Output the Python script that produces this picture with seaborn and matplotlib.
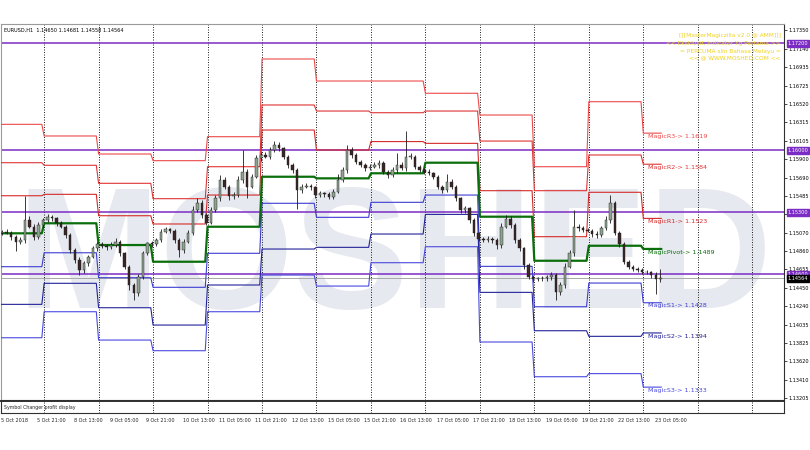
import numpy as np
import pandas as pd
import matplotlib
matplotlib.use('Agg')
import matplotlib.pyplot as plt
import matplotlib.transforms as mtransforms
import seaborn as sns

# ---------------- data ----------------
symbol_header = "EURUSD,H1  1.14650 1.14681 1.14558 1.14564"

# 2-hour candles (close prices), open = previous close
first_open = 1.15070
closes = [
    1.15080, 1.15069, 1.15024, 1.14968, 1.14986, 1.15212, 1.15137, 1.15024, 1.15155, 1.15212,
    1.15249, 1.15230, 1.15174, 1.15137, 1.15043, 1.14874, 1.14761, 1.14649, 1.14724, 1.14799,
    1.14893, 1.14941, 1.14919, 1.14904, 1.14930, 1.14968, 1.14836, 1.14686, 1.14480, 1.14386,
    1.14573, 1.14836, 1.14949, 1.14941, 1.14986, 1.15080, 1.15107, 1.15092, 1.14986, 1.14874,
    1.14968, 1.15069, 1.15324, 1.15407, 1.15268, 1.15182, 1.15324, 1.15456, 1.15662, 1.15587,
    1.15482, 1.15493, 1.15662, 1.15756, 1.15587, 1.15700, 1.15906, 1.15944, 1.15925, 1.16000,
    1.16056, 1.16019, 1.15925, 1.15831, 1.15775, 1.15550, 1.15587, 1.15595, 1.15580, 1.15493,
    1.15512, 1.15504, 1.15474, 1.15531, 1.15662, 1.15775, 1.16000, 1.15944, 1.15869, 1.15831,
    1.15794, 1.15812, 1.15831, 1.15857, 1.15756, 1.15718, 1.15775, 1.15831, 1.15794, 1.15925,
    1.15925, 1.15812, 1.15775, 1.15756, 1.15737, 1.15700, 1.15587, 1.15550, 1.15643, 1.15587,
    1.15456, 1.15324, 1.15343, 1.15212, 1.15061, 1.14994, 1.14986, 1.15001, 1.14986, 1.14930,
    1.15137, 1.15223, 1.15155, 1.14986, 1.14893, 1.14705, 1.14573, 1.14543, 1.14555, 1.14558,
    1.14570, 1.14592, 1.14405, 1.14480, 1.14686, 1.14836, 1.15137, 1.15118, 1.15099, 1.15092,
    1.15054, 1.15043, 1.15118, 1.15212, 1.15399, 1.15069, 1.14941, 1.14742, 1.14686, 1.14660,
    1.14649, 1.14630, 1.14622, 1.14592, 1.14543, 1.14564]
# wick lengths beyond the body, in pips
wick_up = [
    2, 3, 2, 2, 3, 27, 4, 3, 3, 2,
    3, 2, 2, 3, 2, 2, 2, 3, 3, 2,
    3, 2, 2, 2, 3, 4, 2, 2, 2, 2,
    3, 3, 2, 3, 2, 3, 3, 2, 2, 2,
    3, 3, 5, 5, 3, 2, 3, 4, 6, 3,
    2, 3, 4, 24, 3, 3, 4, 3, 3, 3,
    5, 3, 2, 2, 2, 2, 3, 3, 2, 2,
    3, 2, 2, 3, 7, 3, 6, 3, 2, 2,
    2, 3, 3, 3, 2, 2, 3, 13, 3, 29,
    4, 2, 2, 2, 3, 2, 2, 2, 9, 3,
    2, 2, 3, 2, 2, 2, 3, 3, 2, 2,
    4, 5, 3, 2, 2, 2, 2, 2, 2, 2,
    2, 3, 2, 3, 4, 4, 19, 3, 3, 2,
    2, 3, 3, 4, 9, 3, 2, 2, 2, 2,
    2, 2, 2, 2, 3, 10]
wick_dn = [
    3, 2, 4, 11, 3, 3, 2, 4, 3, 2,
    2, 3, 3, 2, 3, 3, 3, 6, 3, 3,
    2, 3, 2, 3, 2, 2, 3, 3, 6, 8,
    3, 2, 2, 3, 2, 2, 2, 3, 3, 8,
    3, 2, 3, 2, 3, 3, 2, 2, 3, 3,
    4, 3, 2, 3, 13, 2, 2, 3, 2, 3,
    2, 3, 3, 3, 3, 21, 3, 2, 3, 3,
    2, 3, 3, 2, 2, 2, 3, 3, 3, 2,
    3, 2, 2, 3, 3, 3, 2, 3, 2, 3,
    3, 3, 2, 3, 2, 3, 3, 3, 2, 3,
    3, 3, 3, 3, 3, 2, 2, 2, 3, 4,
    3, 2, 3, 3, 3, 5, 3, 3, 2, 3,
    3, 3, 9, 4, 3, 2, 3, 3, 2, 2,
    3, 3, 2, 2, 3, 3, 3, 3, 3, 2,
    2, 3, 2, 3, 16, 3]

# daily pivot levels (5 Oct .. 23 Oct), hours of each day shown
day_hours = [19, 24, 24, 24, 24, 24, 24, 24, 24, 24, 24, 24, 9]
R3 = [1.16289, 1.16158, 1.15955, 1.15880, 1.16150, 1.17025, 1.16777, 1.16777, 1.16639, 1.16394, 1.15812, 1.16544, 1.16190]
R2 = [1.15857, 1.15828, 1.15625, 1.15452, 1.15812, 1.16507, 1.16439, 1.16420, 1.16439, 1.16101, 1.15542, 1.15944, 1.15840]
R1 = [1.15485, 1.15501, 1.15260, 1.15167, 1.15493, 1.16225, 1.16000, 1.16095, 1.16075, 1.15542, 1.15024, 1.15524, 1.15230]
PV = [1.15062, 1.15175, 1.14930, 1.14742, 1.15136, 1.15699, 1.15681, 1.15738, 1.15857, 1.15249, 1.14753, 1.14922, 1.14886]
S1 = [1.14686, 1.14843, 1.14562, 1.14454, 1.14837, 1.15400, 1.15242, 1.15411, 1.15493, 1.14690, 1.14235, 1.14502, 1.14280]
S2 = [1.14262, 1.14499, 1.14224, 1.14029, 1.14480, 1.14885, 1.14904, 1.15054, 1.15275, 1.14397, 1.13965, 1.13902, 1.13940]
S3 = [1.13886, 1.14179, 1.13860, 1.13740, 1.14179, 1.14592, 1.14468, 1.14731, 1.14911, 1.13838, 1.13447, 1.13482, 1.13330]

level_labels = ["MagicR3-> 1.1619", "MagicR2-> 1.1584", "MagicR1-> 1.1523", "MagicPivot-> 1.1489",
                "MagicS1-> 1.1428", "MagicS2-> 1.1394", "MagicS3-> 1.1333"]

round_levels = [1.17200, 1.16000, 1.15300, 1.14600]
bid_price = 1.14564

ytick_labels = ["1.17350", "1.17140", "1.16935", "1.16725", "1.16520", "1.16315", "1.16105",
                "1.15900", "1.15690", "1.15485", "1.15275", "1.15070", "1.14860", "1.14655",
                "1.14450", "1.14240", "1.14035", "1.13825", "1.13620", "1.13410", "1.13205"]
time_labels = ["5 Oct 2018", "5 Oct 21:00", "8 Oct 13:00", "9 Oct 05:00", "9 Oct 21:00",
               "10 Oct 13:00", "11 Oct 05:00", "11 Oct 21:00", "12 Oct 13:00", "15 Oct 05:00",
               "15 Oct 21:00", "16 Oct 13:00", "17 Oct 05:00", "17 Oct 21:00", "18 Oct 13:00",
               "19 Oct 05:00", "19 Oct 21:00", "22 Oct 13:00", "23 Oct 05:00"]
banner = ["[[[MasterMagiczilla v2.0 @ AMM]]]",
          "<< Eksklusif, Indicator Yg Pertama >>",
          "= PERCUMA slin Bahasa Melayu =",
          "<< @ WWW.MOSHED.COM <<"]

# ---------------- style ----------------
sns.set_style('white')
plt.rcParams['font.family'] = ['DejaVu Sans']

PURPLE = '#7b2cc4'
RED3, RED2, RED1 = '#ee4a4a', '#e03434', '#d42a2a'
GREEN = '#0a6e0a'
BLUE1, BLUE2, BLUE3 = '#3c3cd2', '#23239a', '#4a4ae0'

fig = plt.figure(figsize=(8.1, 4.5), dpi=100)
fig.patch.set_facecolor('white')
ax = fig.add_axes([1 / 810, 50 / 450, 783 / 810, 376 / 450])
ax_sub = fig.add_axes([1 / 810, 37 / 450, 783 / 810, 12 / 450])

XMAX = 345.0
ax.set_xlim(0, XMAX)
ax.set_ylim(1.13185, 1.17419)

# watermark
ax.text(0.503, 0.245, "MOSHED", transform=ax.transAxes, ha='center', va='baseline',
        fontsize=124, fontweight='bold', color='#e7e9f0', zorder=0, clip_on=True,
        family=['Liberation Sans', 'DejaVu Sans'])

# day grid
ax.set_xticks(np.arange(19, XMAX, 24), minor=True)
ax.set_xticks([])
ax.grid(True, which='minor', axis='x', color='black', lw=0.6, ls=(0, (1.2, 1.8)))
ax.grid(False, which='major')

# round-number levels and bid line
for v in round_levels:
    ax.axhline(v, color=PURPLE, lw=1.1, zorder=2)
ax.axhline(bid_price, color='#a8a8a8', lw=0.7, zorder=2)

# pivot lines (one value per hourly bar)
bars = np.arange(sum(day_hours))
levels = [(R3, RED3, 0.8), (R2, RED2, 0.8), (R1, RED1, 0.8), (PV, GREEN, 1.6),
          (S1, BLUE1, 0.8), (S2, BLUE2, 0.8), (S3, BLUE3, 0.8)]
for vals, col, lw in levels:
    df = pd.DataFrame({'bar': bars, 'price': np.repeat(vals, day_hours)})
    sns.lineplot(data=df, x='bar', y='price', ax=ax, color=col, lw=lw,
                 estimator=None, legend=False, zorder=3)

# candles
c = np.array(closes)
o = np.r_[first_open, c[:-1]]
hi = np.maximum(o, c) + np.array(wick_up) * 1e-4
lo = np.minimum(o, c) - np.array(wick_dn) * 1e-4
xc = np.arange(len(c)) * 2 + 0.5
ax.vlines(xc, lo, hi, color='#1a1a1a', lw=0.6, zorder=4)
up = c >= o
body_h = np.maximum(np.abs(c - o), 0.00004)
ax.bar(xc, body_h, bottom=np.minimum(o, c), width=1.1,
       color=np.where(up, '#8fa38f', '#3a2626'), edgecolor='#1a1a1a', linewidth=0.3, zorder=5)

# level labels for current day
lab_cols = [RED3, RED2, RED1, GREEN, BLUE1, BLUE2, BLUE3]
lab_vals = [R3[-1], R2[-1], R1[-1], PV[-1], S1[-1], S2[-1], S3[-1]]
for t, v, col in zip(level_labels, lab_vals, lab_cols):
    ax.text(285.2, v - 0.00008, t, color=col, fontsize=4.6, va='top', ha='left', zorder=6)

# header and banner
ax.text(0.004, 0.984, symbol_header, transform=ax.transAxes, fontsize=3.6,
        va='center', ha='left', color='black', zorder=7)
for k, line in enumerate(banner):
    ypix = [36, 44, 51.5, 58][k]
    ax.text(0.996, (400 - ypix) / 376, line, transform=ax.transAxes, fontsize=4.2,
            va='center', ha='right', color='#f0d21e', zorder=7)

# right price axis
ax.yaxis.tick_right()
ax.set_yticks([float(s) for s in ytick_labels])
ax.set_yticklabels(ytick_labels)
ax.tick_params(axis='y', which='major', right=True, length=2, width=0.5, pad=1.5,
               labelsize=3.6, colors='black')
ax.set_ylabel('')
ax.set_xlabel('')
tr = mtransforms.blended_transform_factory(ax.transAxes, ax.transData)
for v in round_levels:
    ax.text(1.0045, v, f"{v:.5f}", transform=tr, fontsize=3.6, color='white',
            va='center', ha='left', zorder=8,
            bbox=dict(boxstyle='square,pad=0.2', fc=PURPLE, ec=PURPLE))
ax.text(1.0045, bid_price - 0.0001, f"{bid_price:.5f}", transform=tr, fontsize=3.6, color='white',
        va='center', ha='left', zorder=8,
        bbox=dict(boxstyle='square,pad=0.2', fc='black', ec='black'))

for s in ax.spines.values():
    s.set_color('#303030')
    s.set_linewidth(0.8)
ax.spines['left'].set_color('#9a9a9a')
ax.spines['top'].set_color('#9a9a9a')

# sub window and time axis
ax_sub.set_xlim(0, XMAX)
ax_sub.set_ylim(0, 1)
ax_sub.set_yticks([])
ax_sub.text(0.004, 0.5, "Symbol Changer profit display", transform=ax_sub.transAxes,
            fontsize=3.4, va='center', ha='left')
ax_sub.set_xticks(np.arange(0, 16 * len(time_labels), 16))
ax_sub.set_xticklabels(time_labels, ha='left', fontsize=3.5)
ax_sub.tick_params(axis='x', length=2.5, width=0.5, pad=1)
for lbl in ax_sub.get_xticklabels():
    lbl.set_horizontalalignment('left')
ax_sub.set_xticks(np.arange(19, XMAX, 24), minor=True)
ax_sub.tick_params(axis='x', which='minor', length=0)
ax_sub.grid(True, which='minor', axis='x', color='black', lw=0.6, ls=(0, (1.2, 1.8)))
for s in ax_sub.spines.values():
    s.set_color('#303030')
    s.set_linewidth(0.8)
ax_sub.spines['top'].set_linewidth(1.4)

fig.savefig('out.png', dpi=100, facecolor='white')
